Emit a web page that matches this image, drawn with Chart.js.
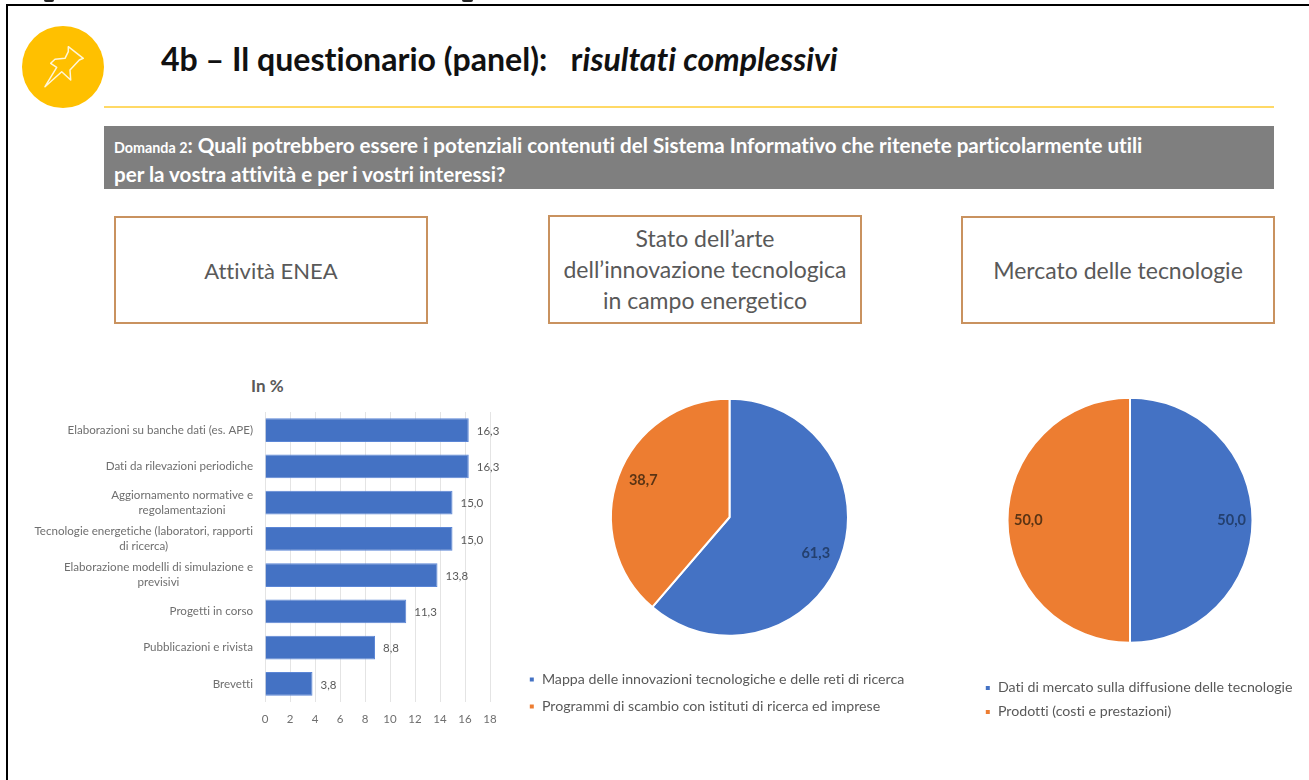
<!DOCTYPE html>
<html lang="it">
<head>
<meta charset="utf-8">
<title>4b – Il questionario (panel)</title>
<script src="https://cdn.jsdelivr.net/npm/chart.js@4"></script>
<style>
html,body{margin:0;padding:0;background:#fff;width:1309px;height:780px;overflow:hidden;font-family:Lato,"Open Sans",sans-serif;font-variant-ligatures:none}
.abs{position:absolute}
.frameTop{left:6px;top:4px;width:1303px;height:2px;background:#000}
.frameLeft{left:6px;top:4px;width:2px;height:776px;background:#000}
.clip{height:2px;background:#222;border-radius:0 0 5px 5px;top:0}
.title{left:161px;top:41px;font-size:32.1px;font-weight:700;color:#111;white-space:pre;line-height:36px}
.rule{left:104px;top:106px;width:1170px;height:2px;background:#ffd966}
.band{left:104px;top:126px;width:1170px;height:63px;background:#7f7f7f;color:#fff;font-weight:700;box-sizing:border-box;padding:5.5px 0 0 10px;font-size:20.6px;line-height:26px;white-space:pre}
.band small{font-size:14.3px}
.box{box-sizing:border-box;border:2px solid #c9925f;color:#595959;font-size:23px;line-height:31px;display:flex;align-items:center;justify-content:center;text-align:center}
.inpct{left:251px;top:375px;font-size:17px;font-weight:700;color:#595959}
canvas{position:absolute}
</style>
</head>
<body>
<div class="abs frameTop"></div>
<div class="abs frameLeft"></div>
<div class="abs clip" style="left:44px;width:10px"></div>
<div class="abs clip" style="left:462px;width:11px"></div>

<svg class="abs" style="left:22px;top:26px" width="82" height="82" viewBox="0 0 82 82">
  <circle cx="41" cy="41" r="41" fill="#ffc000"/>
  <g fill="none" stroke="#fff" stroke-width="1.5" stroke-linejoin="round" stroke-linecap="round" opacity=".85">
    <path d="M46.3 20.7 L61.3 32.3 L57.3 34 L48 44 L48.7 54 L39.7 45.7 L23 60.7 L34.7 41.3 L28.7 37.3 L33 33.3 L43 32.3 L46.3 25.7 Z"/>
  </g>
</svg>

<div class="abs title">4b – Il questionario (panel):   r<i>isultati complessivi</i></div>
<div class="abs rule"></div>
<div class="abs band"><small>Domanda 2</small>: Quali potrebbero essere i potenziali contenuti del Sistema Informativo che ritenete particolarmente utili
per la vostra attività e per i vostri interessi?</div>

<div class="abs box" style="left:114px;top:216px;width:314px;height:108px;font-size:22px">Attività ENEA</div>
<div class="abs box" style="left:548px;top:215px;width:314px;height:109px">Stato dell’arte<br>dell’innovazione tecnologica<br>in campo energetico</div>
<div class="abs box" style="left:961px;top:216px;width:314px;height:108px">Mercato delle tecnologie</div>

<div class="abs inpct">In %</div>

<canvas id="bars" style="left:10px;top:400px" width="500" height="335"></canvas>
<canvas id="pieA" style="left:516px;top:360px" width="427" height="370"></canvas>
<canvas id="pieB" style="left:975px;top:360px" width="330" height="370"></canvas>

<script>
const barCategories = [
  "Elaborazioni su banche dati (es. APE)",
  "Dati da rilevazioni periodiche",
  ["Aggiornamento normative e", "regolamentazioni"],
  ["Tecnologie energetiche (laboratori, rapporti", "di ricerca)"],
  ["Elaborazione modelli di simulazione e", "previsivi"],
  "Progetti in corso",
  "Pubblicazioni e rivista",
  "Brevetti"
];
const barValues = [16.3, 16.3, 15.0, 15.0, 13.8, 11.3, 8.8, 3.8];
const axisMax = 18;
const axisStep = 2;

const pieALabels = ["Mappa delle innovazioni tecnologiche e delle reti di ricerca", "Programmi di scambio con istituti di ricerca ed imprese"];
const pieAValues = [61.3, 38.7];
const pieBLabels = ["Dati di mercato sulla diffusione delle tecnologie", "Prodotti (costi e prestazioni)"];
const pieBValues = [50.0, 50.0];

const BLUE = "#4472c4", ORANGE = "#ed7d31", GREY = "#595959", TICK = "#6f6f6f";
const FONT = 'Lato, "Open Sans", sans-serif';
const comma = v => v.toFixed(1).replace(".", ",");

const barValueLabels = {
  id: "barValueLabels",
  afterDatasetsDraw(chart) {
    const ctx = chart.ctx, meta = chart.getDatasetMeta(0);
    ctx.save();
    ctx.font = "11.5px " + FONT;
    ctx.fillStyle = GREY;
    ctx.textAlign = "left";
    ctx.textBaseline = "middle";
    meta.data.forEach((el, i) => ctx.fillText(comma(barValues[i]), el.x + 8, el.y + 1));
    ctx.restore();
  }
};

const pieValueLabels = {
  id: "pieValueLabels",
  afterLayout(chart) {
    chart.legend.right = chart.width;
  },
  afterDatasetsDraw(chart, args, opts) {
    const ctx = chart.ctx, meta = chart.getDatasetMeta(0);
    const values = chart.data.datasets[0].data;
    ctx.save();
    ctx.font = "700 14.5px " + FONT;
    ctx.textAlign = "center";
    ctx.textBaseline = "middle";
    meta.data.forEach((arc, i) => {
      const p = arc.getProps(["x", "y", "startAngle", "endAngle", "outerRadius"], true);
      const a = (p.startAngle + p.endAngle) / 2 + opts.shift;
      const r = p.outerRadius * opts.radius;
      ctx.fillStyle = i === 0 ? "#24406f" : "#5a3414";
      ctx.fillText(comma(values[i]), p.x + Math.cos(a) * r, p.y + Math.sin(a) * r);
    });
    ctx.restore();
  }
};

new Chart(document.getElementById("bars"), {
  type: "bar",
  plugins: [barValueLabels],
  data: {
    labels: barCategories,
    datasets: [{ data: barValues, backgroundColor: BLUE, borderColor: "#5b86d6", borderWidth: 1, categoryPercentage: 0.66, barPercentage: 1 }]
  },
  options: {
    indexAxis: "y",
    responsive: false,
    animation: false,
    layout: { padding: { top: 12, right: 20, bottom: 5, left: 0 } },
    plugins: { legend: { display: false }, tooltip: { enabled: false } },
    scales: {
      x: {
        min: 0, max: axisMax,
        ticks: { stepSize: axisStep, color: TICK, font: { family: FONT, size: 11.5 }, maxRotation: 0, padding: 10 },
        grid: { color: "#e4e4e4", drawTicks: false },
        border: { display: false },
        afterFit(s) { s.height = 28; }
      },
      y: {
        ticks: { color: TICK, font: { family: FONT, size: 11.6, lineHeight: 1.3 }, padding: 12, autoSkip: false },
        grid: { display: false, drawTicks: false },
        border: { display: false },
        afterFit(s) { s.width = 255; s.paddingTop = 0; s.paddingBottom = 0; },
        afterUpdate(s) {
          if (s.__centred) return;
          s.__centred = true;
          const orig = s._computeLabelItems.bind(s);
          s._computeLabelItems = ca => orig(ca).map(it => {
            if (Array.isArray(it.label) && it.options && it.options.translation) {
              s.ctx.save();
              s.ctx.font = it.font.string;
              const w = Math.max(...it.label.map(t => s.ctx.measureText(t).width));
              s.ctx.restore();
              it.options.textAlign = "center";
              it.options.translation = [it.options.translation[0] - w / 2, it.options.translation[1]];
            }
            return it;
          });
        }
      }
    }
  }
});

function pie(id, labels, values, radius, padding, rowGap, labelOpts) {
  return new Chart(document.getElementById(id), {
    type: "pie",
    plugins: [pieValueLabels],
    data: {
      labels: labels,
      datasets: [{ data: values, backgroundColor: [BLUE, ORANGE], borderColor: "#fff", borderWidth: 2, radius: radius }]
    },
    options: {
      responsive: false,
      animation: false,
      layout: { padding: padding },
      plugins: {
        tooltip: { enabled: false },
        pieValueLabels: labelOpts,
        legend: {
          position: "bottom",
          align: "start",
          labels: { boxWidth: 6, boxHeight: 6, padding: rowGap, color: GREY, font: { family: FONT, size: 14.2 } }
        }
      }
    }
  });
}

pie("pieA", pieALabels, pieAValues, 118.5, { top: 15, bottom: 6.5, left: 0, right: 0 }, 12.8, { radius: 0.79, shift: 0.045 });
pie("pieB", pieBLabels, pieBValues, 122.5, { top: 9.6, bottom: 1, left: 0, right: 20 }, 9.8, { radius: 0.83, shift: 0 });
</script>
</body>
</html>
